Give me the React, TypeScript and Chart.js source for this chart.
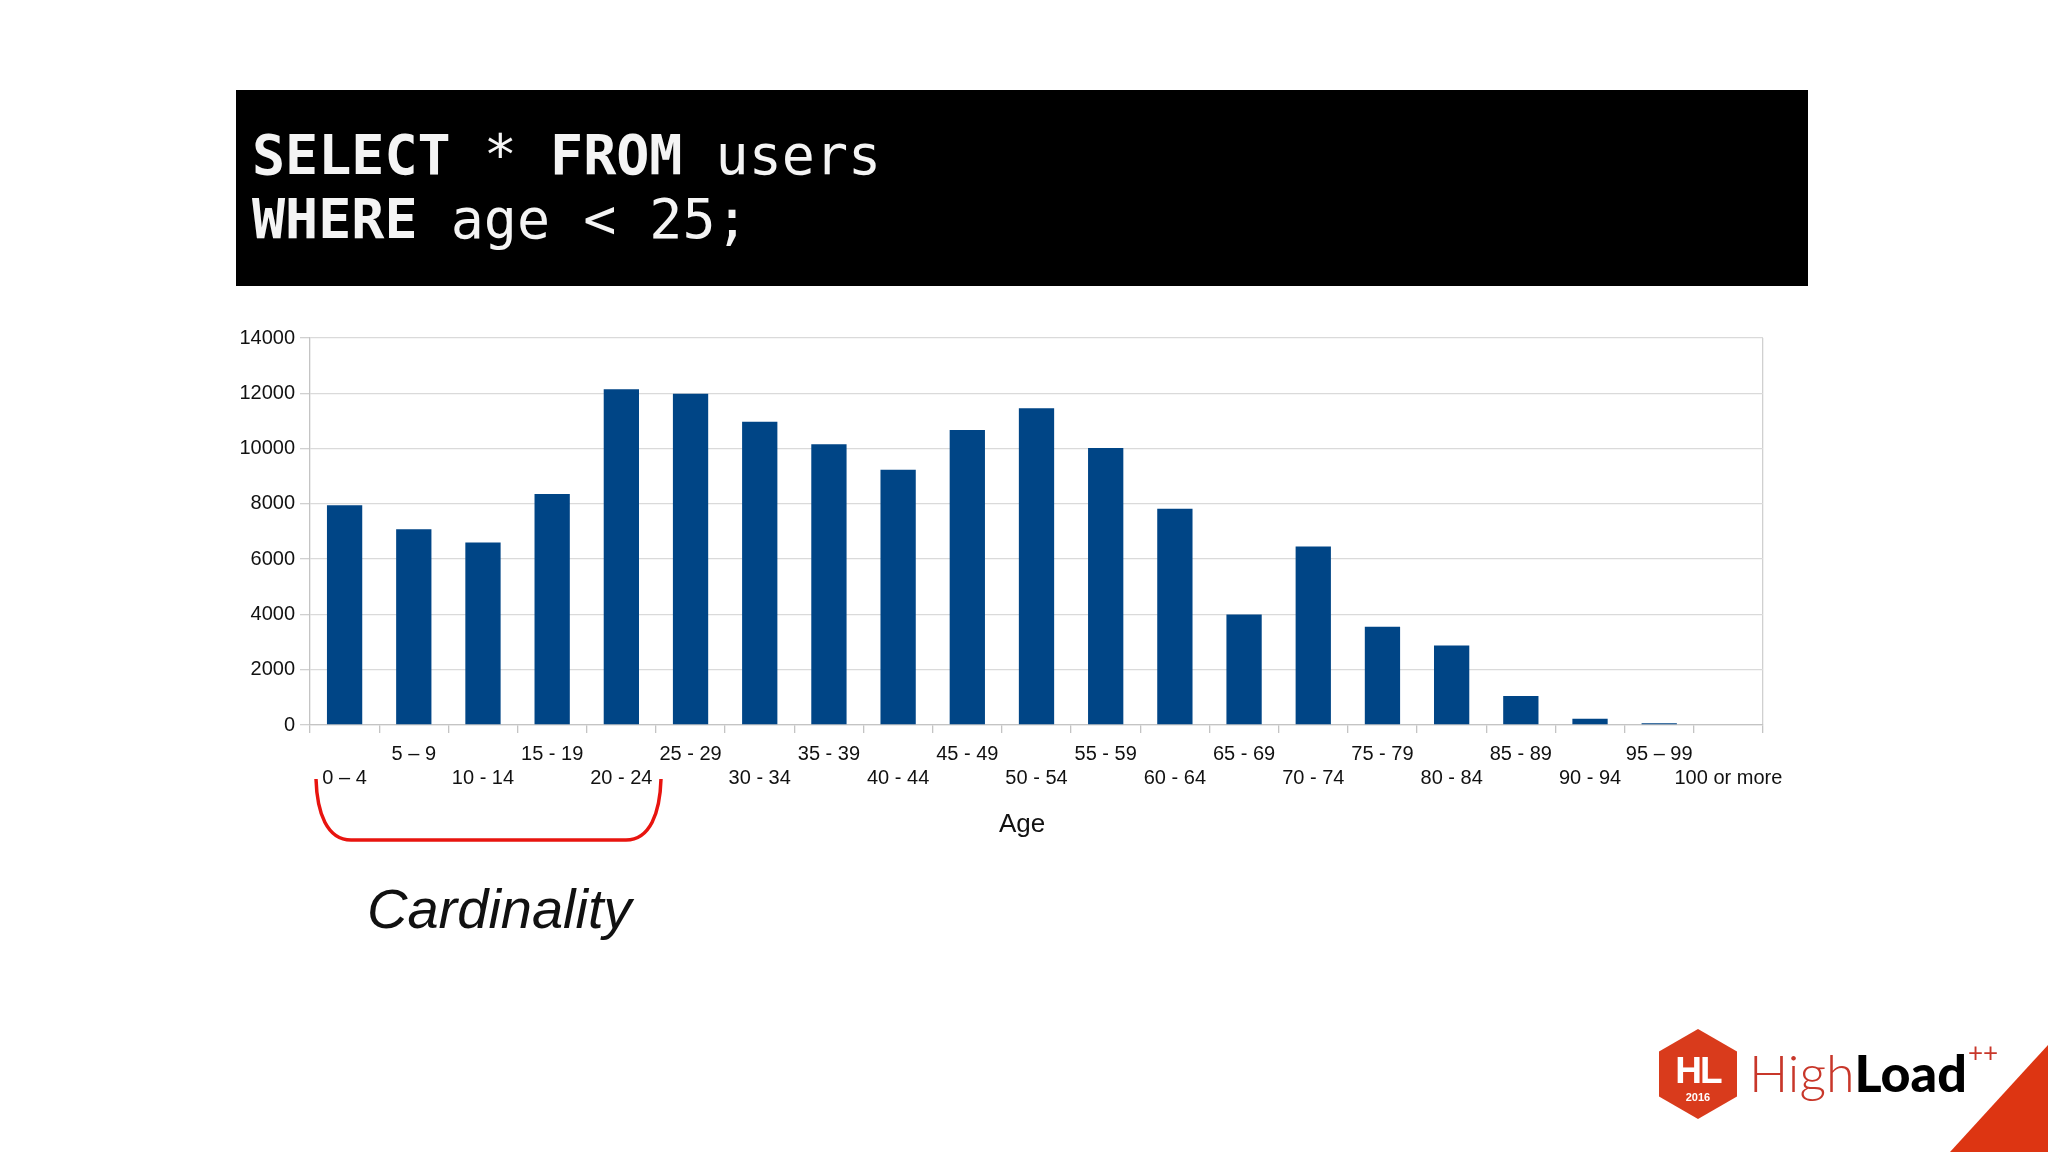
import React, { useEffect, useRef } from "react";
import { Chart, registerables } from "chart.js";

Chart.register(...registerables);

// ---- data ----
const categories: string[] = [
  "0 – 4", "5 – 9", "10 - 14", "15 - 19", "20 - 24", "25 - 29", "30 - 34",
  "35 - 39", "40 - 44", "45 - 49", "50 - 54", "55 - 59", "60 - 64", "65 - 69",
  "70 - 74", "75 - 79", "80 - 84", "85 - 89", "90 - 94", "95 – 99", "100 or more",
];
const users: number[] = [
  7950, 7080, 6600, 8360, 12150, 11980, 10970, 10160, 9230, 10670, 11460,
  10020, 7820, 4000, 6460, 3550, 2880, 1050, 230, 60, 30,
];
const yTicks: number[] = [0, 2000, 4000, 6000, 8000, 10000, 12000, 14000];
const axisTitle = "Age";
const sqlLine1 = [
  { t: "SELECT", b: true }, { t: " * ", b: false }, { t: "FROM", b: true }, { t: " users", b: false },
];
const sqlLine2 = [
  { t: "WHERE", b: true }, { t: " age < 25;", b: false },
];
const annotation = "Cardinality";

const BAR = "#004586";
const FONT = "'Liberation Sans', Arial, Helvetica, sans-serif";

function ChartBlock() {
  const ref = useRef<HTMLCanvasElement | null>(null);
  useEffect(() => {
    if (!ref.current) return;
    const labels = categories.map((c, i) => (i % 2 === 0 ? ["", c] : [c, ""]));
    const chart = new Chart(ref.current, {
      type: "bar",
      data: {
        labels,
        datasets: [
          {
            label: "Users",
            data: users,
            backgroundColor: BAR,
            borderWidth: 0,
            barPercentage: 0.51,
            categoryPercentage: 1,
          },
        ],
      },
      options: {
        responsive: false,
        animation: false,
        layout: { padding: { left: 199, right: 285, top: 38, bottom: 20 } },
        plugins: { legend: { display: false }, tooltip: { enabled: false } },
        scales: {
          x: {
            offset: true,
            grid: {
              offset: true,
              drawOnChartArea: true,
              color: (ctx: any) => (ctx.type === "scale" ? "#d0d0d0" : "rgba(0,0,0,0)"),
              tickColor: "#c4c4c4",
              tickLength: 8,
              lineWidth: 1.3,
            },
            border: { display: true, color: "#c4c4c4", width: 1.3 },
            ticks: {
              autoSkip: false,
              maxRotation: 0,
              minRotation: 0,
              padding: 9,
              color: "#111",
              font: { family: FONT, size: 20, lineHeight: 1.2 },
            },
            title: {
              display: true,
              // trailing no-break spaces shift the centred title slightly left, as in the reference
              text: axisTitle + "\u00a0\u00a0\u00a0\u00a0",
              color: "#111",
              font: { family: FONT, size: 26, lineHeight: 1.2 },
              padding: 0,
            },
            afterFit: (s: any) => {
              s.height = 115;
            },
          } as any,
          y: {
            min: yTicks[0],
            max: yTicks[yTicks.length - 1],
            ticks: {
              stepSize: yTicks[1] - yTicks[0],
              padding: 5,
              color: "#111",
              font: { family: FONT, size: 20 },
              callback: (v: any) => String(v),
            },
            grid: { color: "#dadada", tickColor: "#d0d0d0", tickLength: 10, lineWidth: 1.3 },
            border: { display: true, color: "#c4c4c4", width: 1.3 },
            afterFit: (s: any) => {
              s.width = 111;
            },
          } as any,
        },
      },
    });
    return () => chart.destroy();
  }, []);
  return (
    <canvas
      ref={ref}
      width={2048}
      height={560}
      style={{ position: "absolute", left: 0, top: 300, width: 2048, height: 560 }}
    />
  );
}

export default function App() {
  return (
    <div
      style={{
        position: "fixed",
        left: 0,
        top: 0,
        width: 2048,
        height: 1152,
        background: "#fff",
        overflow: "hidden",
      }}
    >
      {/* SQL header box */}
      <div
        style={{
          position: "absolute",
          left: 236,
          top: 90,
          width: 1572,
          height: 196,
          background: "#000",
        }}
      />
      <div
        style={{
          position: "absolute",
          left: 252,
          top: 123,
          fontFamily: "'DejaVu Sans Mono', 'Liberation Mono', monospace",
          fontSize: 55,
          lineHeight: "64px",
          color: "#f4f4f4",
          whiteSpace: "pre",
        }}
      >
        <div>
          {sqlLine1.map((p, i) => (
            <span key={i} style={{ fontWeight: p.b ? 700 : 400 }}>{p.t}</span>
          ))}
        </div>
        <div>
          {sqlLine2.map((p, i) => (
            <span key={i} style={{ fontWeight: p.b ? 700 : 400 }}>{p.t}</span>
          ))}
        </div>
      </div>

      <ChartBlock />

      {/* red bracket */}
      <svg
        width={2048}
        height={1152}
        style={{ position: "absolute", left: 0, top: 0, pointerEvents: "none" }}
      >
        <path
          d="M316,779 C317,813 327,840 351,840 L626,840 C650,840 660,813 661,779"
          fill="none"
          stroke="#e8140f"
          strokeWidth={3.5}
        />
        {/* logo */}
        <polygon
          points="1698,1029 1737,1051.5 1737,1096.5 1698,1119 1659,1096.5 1659,1051.5"
          fill="#d93b1c"
        />
        <text
          x={1698}
          y={1083}
          textAnchor="middle"
          fontFamily="'Liberation Sans', Arial, sans-serif"
          fontWeight={700}
          fontSize={37}
          fill="#fff"
          letterSpacing={-2}
        >
          HL
        </text>
        <text
          x={1698}
          y={1101}
          textAnchor="middle"
          fontFamily="'Liberation Sans', Arial, sans-serif"
          fontWeight={700}
          fontSize={11}
          fill="#fff"
        >
          2016
        </text>
        <text x={1749} y={1092} fontFamily="Lato, 'Open Sans', sans-serif" fontSize={52}>
          <tspan fill="#c8372a" fontWeight={300}>High</tspan>
          <tspan fill="#000" fontWeight={900}>Load</tspan>
        </text>
        <text x={1968} y={1062} fontFamily="Lato, sans-serif" fontSize={26} fill="#c8372a">
          ++
        </text>
        <polygon points="2048,1045 2048,1152 1950,1152" fill="#dd3512" />
      </svg>

      {/* annotation */}
      <div
        style={{
          position: "absolute",
          left: 367,
          top: 881,
          fontFamily: FONT,
          fontStyle: "italic",
          fontSize: 56,
          lineHeight: "56px",
          color: "#111",
          whiteSpace: "nowrap",
        }}
      >
        {annotation}
      </div>
    </div>
  );
}
